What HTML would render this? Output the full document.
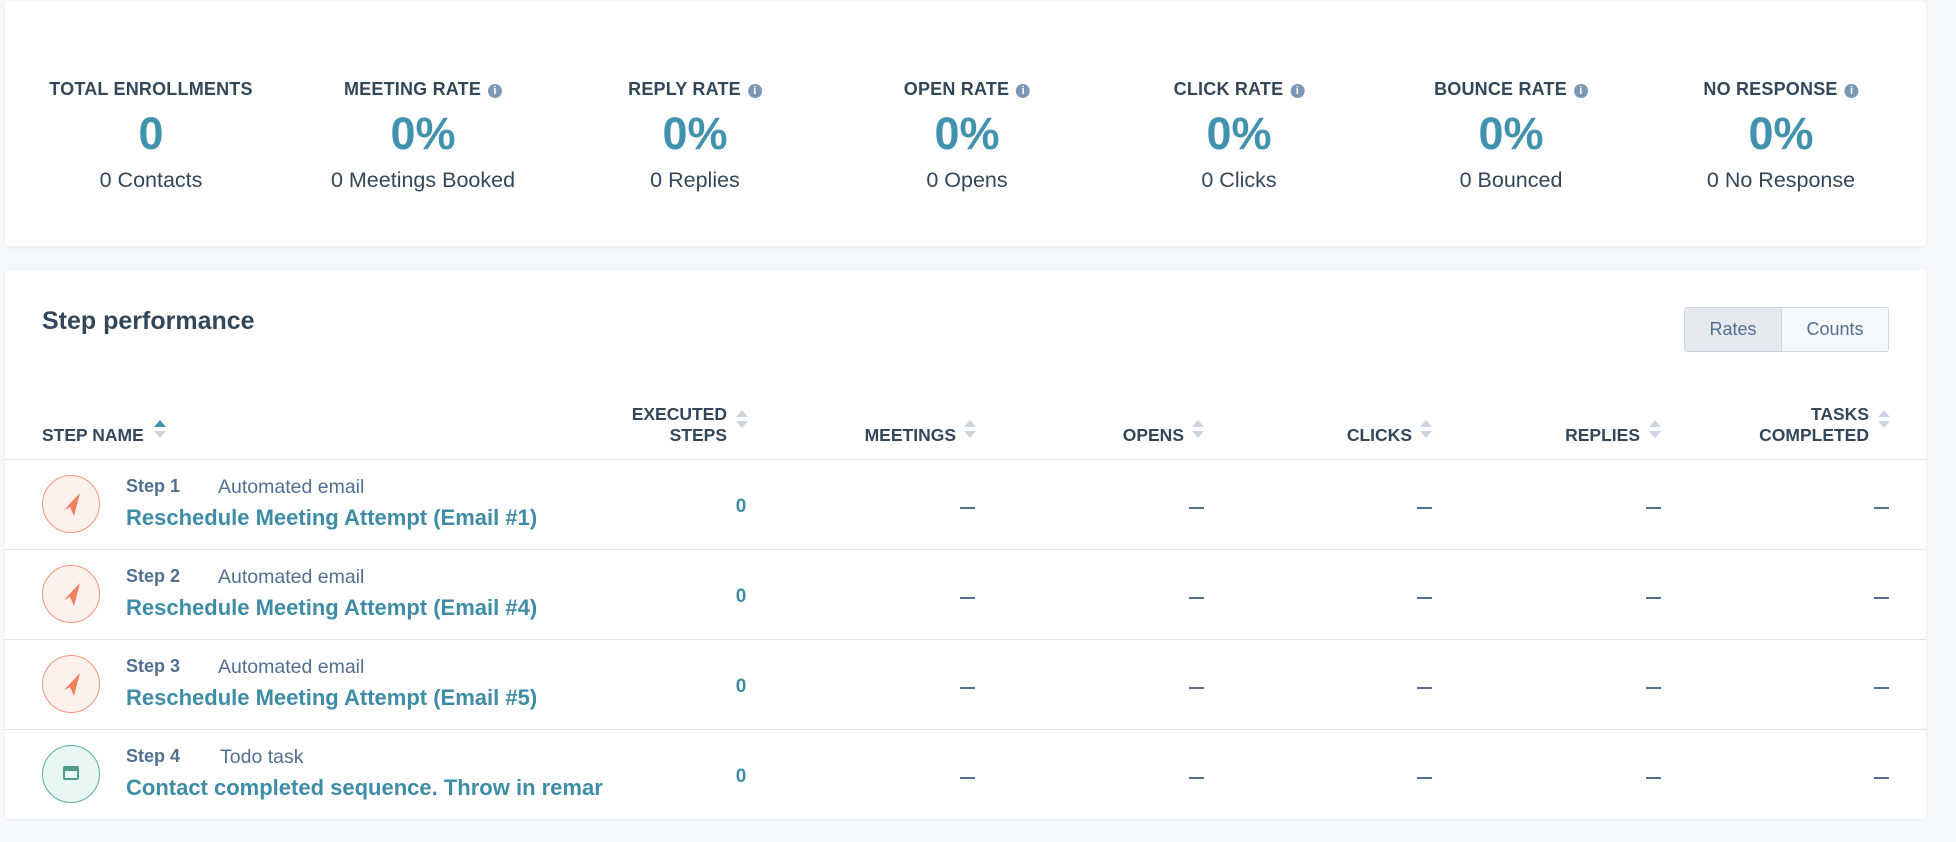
<!DOCTYPE html>
<html><head><meta charset="utf-8"><style>
*{margin:0;padding:0;box-sizing:border-box}
body{width:1956px;height:842px;background:#f5f8fa;font-family:"Liberation Sans",sans-serif;color:#33475b;position:relative;overflow:hidden}
.card{position:absolute;background:#fff;border-radius:4px;box-shadow:0 1px 3px rgba(0,0,0,0.06)}
.a{position:absolute;white-space:nowrap;line-height:1}
.lbl{font-size:18px;font-weight:bold;transform:translateX(-50%);letter-spacing:0.2px}
.big{font-size:45px;font-weight:bold;color:#4192ad;transform:translateX(-50%)}
.sub{font-size:21.5px;transform:translateX(-50%);color:#33475b}
.info{display:inline-block;width:14px;height:14px;border-radius:50%;background:#7c98b6;color:#fff;font-size:11px;text-align:center;line-height:14px;margin-left:7px;vertical-align:1px;font-weight:bold}
.hd{font-size:17.5px;font-weight:bold;text-align:right;line-height:21px}
.sort{position:absolute;width:0;height:0;border-left:6px solid transparent;border-right:6px solid transparent}
.up{border-bottom:7px solid #cbd6e2}.dn{border-top:7px solid #cbd6e2}
.line{position:absolute;left:5px;width:1921px;height:1px;background:#dfe3eb}
.circ{position:absolute;width:58px;height:58px;border-radius:50%;left:42px}
.o{background:#fdf1ed;border:1.5px solid #f2957a}
.g{background:#e8f6f4;border:1.5px solid #5fae9b}
.step{font-size:18px;font-weight:bold;color:#516f90}
.type{font-size:19.5px;color:#516f90}
.ttl{font-size:22px;font-weight:bold;color:#3e8ca6}
.zero{font-size:19px;font-weight:bold;color:#3e8ca6;transform:translateX(-50%)}
.dash{position:absolute;width:15px;height:2px;background:#516f90}
</style></head><body>
<div class="card" style="left:5px;top:1px;width:1921px;height:245px"></div>
<div class="card" style="left:5px;top:270px;width:1921px;height:549px"></div>

<div class="a lbl" style="left:151px;top:80px">TOTAL ENROLLMENTS</div>
<div class="a lbl" style="left:423px;top:80px">MEETING RATE<span class="info">i</span></div>
<div class="a lbl" style="left:695px;top:80px">REPLY RATE<span class="info">i</span></div>
<div class="a lbl" style="left:967px;top:80px">OPEN RATE<span class="info">i</span></div>
<div class="a lbl" style="left:1239px;top:80px">CLICK RATE<span class="info">i</span></div>
<div class="a lbl" style="left:1511px;top:80px">BOUNCE RATE<span class="info">i</span></div>
<div class="a lbl" style="left:1781px;top:80px">NO RESPONSE<span class="info">i</span></div>

<div class="a big" style="left:151px;top:111px">0</div>
<div class="a big" style="left:423px;top:111px">0%</div>
<div class="a big" style="left:695px;top:111px">0%</div>
<div class="a big" style="left:967px;top:111px">0%</div>
<div class="a big" style="left:1239px;top:111px">0%</div>
<div class="a big" style="left:1511px;top:111px">0%</div>
<div class="a big" style="left:1781px;top:111px">0%</div>

<div class="a sub" style="left:151px;top:170px">0 Contacts</div>
<div class="a sub" style="left:423px;top:170px">0 Meetings Booked</div>
<div class="a sub" style="left:695px;top:170px">0 Replies</div>
<div class="a sub" style="left:967px;top:170px">0 Opens</div>
<div class="a sub" style="left:1239px;top:170px">0 Clicks</div>
<div class="a sub" style="left:1511px;top:170px">0 Bounced</div>
<div class="a sub" style="left:1781px;top:170px">0 No Response</div>

<div class="a" style="left:42px;top:309px;font-size:25px;font-weight:bold">Step performance</div>
<div style="position:absolute;left:1684px;top:307px;width:205px;height:45px;border:1px solid #cbd6e2;border-radius:3px;overflow:hidden;display:flex;font-size:18px;color:#516f90">
<div style="width:97px;background:#e5e8ed;border-right:1px solid #cbd6e2;text-align:center;line-height:43px">Rates</div>
<div style="flex:1;background:#f5f8fa;text-align:center;line-height:43px">Counts</div></div>

<!-- headers -->
<div class="a hd" style="left:42px;top:425px;text-align:left">STEP NAME</div>
<div class="sort" style="left:154px;top:420px;border-bottom:7px solid #4192ad"></div><div class="sort dn" style="left:154px;top:431px"></div>
<div class="a hd" style="right:1229px;top:404px">EXECUTED<br>STEPS</div>
<div class="sort up" style="left:736px;top:410px"></div><div class="sort dn" style="left:736px;top:421px"></div>
<div class="a hd" style="right:1000px;top:425px">MEETINGS</div>
<div class="sort up" style="left:964px;top:420px"></div><div class="sort dn" style="left:964px;top:431px"></div>
<div class="a hd" style="right:772px;top:425px">OPENS</div>
<div class="sort up" style="left:1192px;top:420px"></div><div class="sort dn" style="left:1192px;top:431px"></div>
<div class="a hd" style="right:544px;top:425px">CLICKS</div>
<div class="sort up" style="left:1420px;top:420px"></div><div class="sort dn" style="left:1420px;top:431px"></div>
<div class="a hd" style="right:316px;top:425px">REPLIES</div>
<div class="sort up" style="left:1649px;top:420px"></div><div class="sort dn" style="left:1649px;top:431px"></div>
<div class="a hd" style="right:87px;top:404px">TASKS<br>COMPLETED</div>
<div class="sort up" style="left:1878px;top:410px"></div><div class="sort dn" style="left:1878px;top:421px"></div>

<div class="line" style="top:459px"></div>
<div class="line" style="top:549px"></div>
<div class="line" style="top:639px"></div>
<div class="line" style="top:729px"></div>

<!-- rows -->
<div class="circ o" style="top:475px"></div>
<div class="circ o" style="top:565px"></div>
<div class="circ o" style="top:655px"></div>
<div class="circ g" style="top:745px"></div>
<svg style="position:absolute;left:0;top:0" width="1956" height="842">
<g fill="#f07f5e"><path d="M64 510 L80 493 L74 516 L70 507 Z"/><path d="M64 600 L80 583 L74 606 L70 597 Z"/><path d="M64 690 L80 673 L74 696 L70 687 Z"/></g>
<g fill="none" stroke="#4f9d89" stroke-width="2"><rect x="64" y="767" width="14" height="12" rx="1"/></g>
<rect x="64" y="767" width="14" height="4" fill="#4f9d89"/>
</svg>

<div class="a step" style="left:126px;top:477px">Step 1</div><div class="a type" style="left:218px;top:478px">Automated email</div>
<div class="a ttl" style="left:126px;top:507px">Reschedule Meeting Attempt (Email #1)</div>
<div class="a step" style="left:126px;top:567px">Step 2</div><div class="a type" style="left:218px;top:568px">Automated email</div>
<div class="a ttl" style="left:126px;top:597px">Reschedule Meeting Attempt (Email #4)</div>
<div class="a step" style="left:126px;top:657px">Step 3</div><div class="a type" style="left:218px;top:658px">Automated email</div>
<div class="a ttl" style="left:126px;top:687px">Reschedule Meeting Attempt (Email #5)</div>
<div class="a step" style="left:126px;top:747px">Step 4</div><div class="a type" style="left:220px;top:748px">Todo task</div>
<div class="a ttl" style="left:126px;top:777px">Contact completed sequence. Throw in remar</div>

<div class="a zero" style="left:741px;top:497px">0</div>
<div class="a zero" style="left:741px;top:587px">0</div>
<div class="a zero" style="left:741px;top:677px">0</div>
<div class="a zero" style="left:741px;top:767px">0</div>

<div class="dash" style="left:960px;top:507px"></div><div class="dash" style="left:1189px;top:507px"></div><div class="dash" style="left:1417px;top:507px"></div><div class="dash" style="left:1646px;top:507px"></div><div class="dash" style="left:1874px;top:507px"></div>
<div class="dash" style="left:960px;top:597px"></div><div class="dash" style="left:1189px;top:597px"></div><div class="dash" style="left:1417px;top:597px"></div><div class="dash" style="left:1646px;top:597px"></div><div class="dash" style="left:1874px;top:597px"></div>
<div class="dash" style="left:960px;top:687px"></div><div class="dash" style="left:1189px;top:687px"></div><div class="dash" style="left:1417px;top:687px"></div><div class="dash" style="left:1646px;top:687px"></div><div class="dash" style="left:1874px;top:687px"></div>
<div class="dash" style="left:960px;top:777px"></div><div class="dash" style="left:1189px;top:777px"></div><div class="dash" style="left:1417px;top:777px"></div><div class="dash" style="left:1646px;top:777px"></div><div class="dash" style="left:1874px;top:777px"></div>
</body></html>
